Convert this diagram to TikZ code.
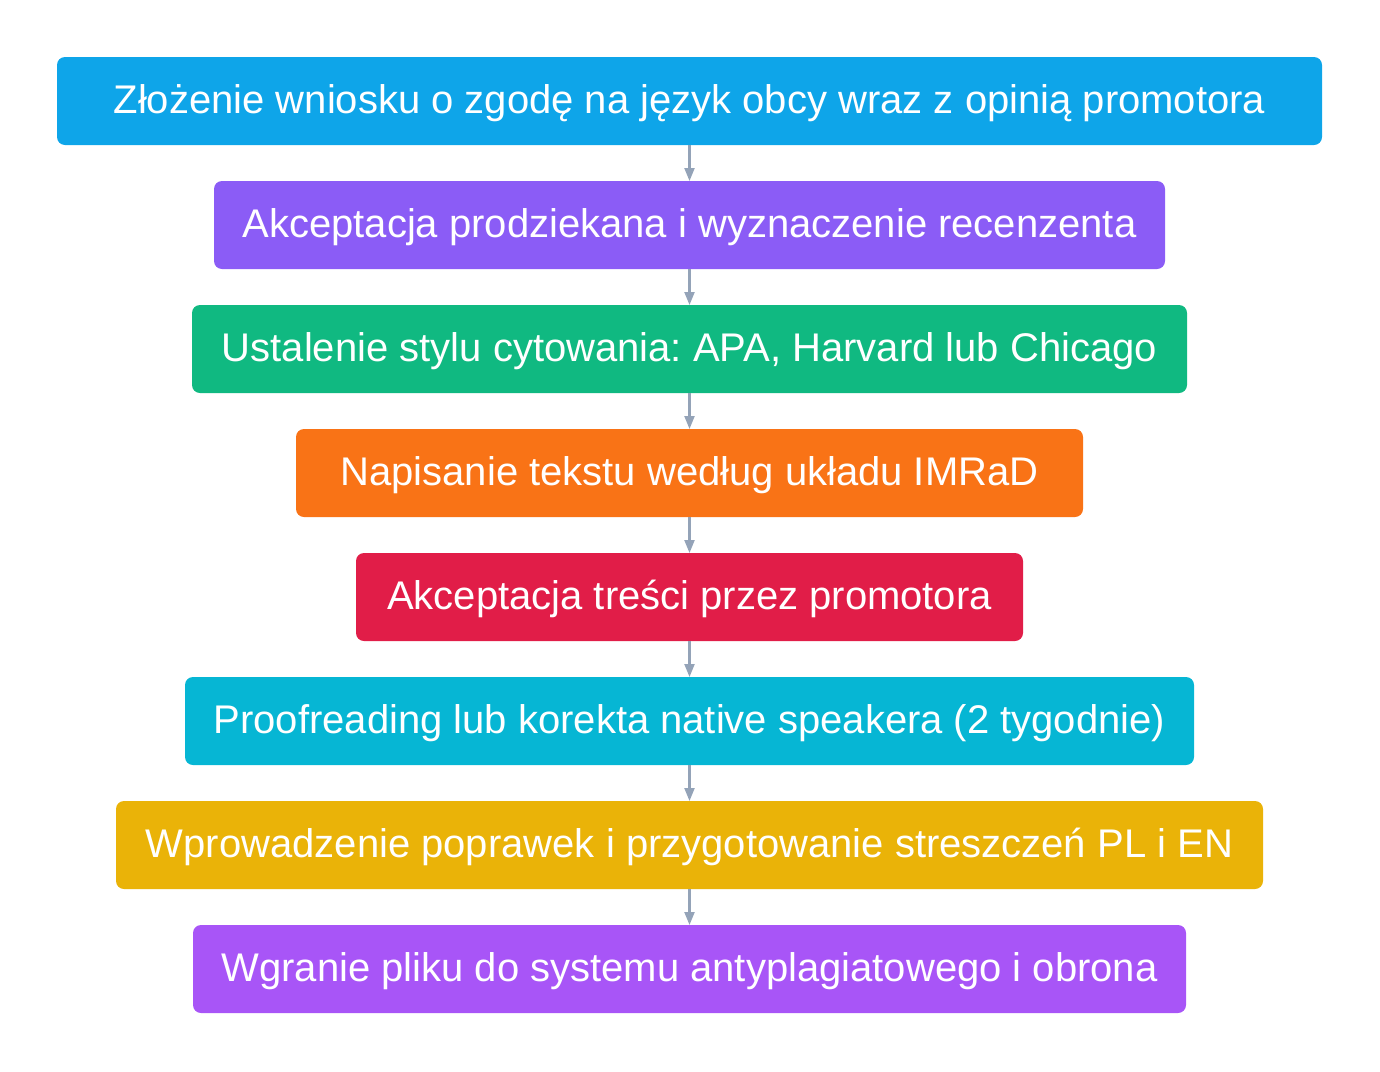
\documentclass[tikz,border=0pt]{standalone}
\usepackage{fontspec}
\setmainfont{Liberation Sans}
\usepackage{xcolor}
\usepackage{tikz}
\usetikzlibrary{positioning,arrows.meta}
\frenchspacing
\definecolor{cSky}{HTML}{0EA5E9}
\definecolor{cViolet}{HTML}{8B5CF6}
\definecolor{cGreen}{HTML}{10B981}
\definecolor{cOrange}{HTML}{F97316}
\definecolor{cRed}{HTML}{E11D48}
\definecolor{cCyan}{HTML}{06B6D4}
\definecolor{cYellow}{HTML}{EAB308}
\definecolor{cPurple}{HTML}{A855F7}
\definecolor{cArrow}{HTML}{94A3B8}

\begin{document}
\begin{tikzpicture}[x=1pt,y=1pt,
    main node/.style={rectangle,rounded corners=8pt,inner sep=0pt,outer sep=0pt,minimum height=88pt,
      text height=33pt,text depth=8pt,text=white,font=\fontsize{40}{44}\selectfont},
    flow/.style={draw=cArrow,line width=2.2pt,-{Triangle[length=13pt,width=10pt]}}]
  \useasboundingbox (0,0) rectangle (1380,-1071);
  \node[main node,fill=cSky,minimum width=1265pt] (1) at (689.5,-101) {Złożenie wniosku o zgodę na język obcy wraz z opinią promotora};
  \node[main node,fill=cViolet,minimum width=951pt,below=36pt of 1] (2) {Akceptacja prodziekana i wyznaczenie recenzenta};
  \node[main node,fill=cGreen,minimum width=995pt,below=36pt of 2] (3) {Ustalenie stylu cytowania: APA, Harvard lub Chicago};
  \node[main node,fill=cOrange,minimum width=787pt,below=36pt of 3] (4) {Napisanie tekstu według układu IMRaD};
  \node[main node,fill=cRed,minimum width=667pt,below=36pt of 4] (5) {Akceptacja treści przez promotora};
  \node[main node,fill=cCyan,minimum width=1009pt,below=36pt of 5] (6) {Proofreading lub korekta native speakera (2 tygodnie)};
  \node[main node,fill=cYellow,minimum width=1147pt,below=36pt of 6] (7) {Wprowadzenie poprawek i przygotowanie streszczeń PL i EN};
  \node[main node,fill=cPurple,minimum width=993pt,below=36pt of 7] (8) {Wgranie pliku do systemu antyplagiatowego i obrona};
  \path
    (1) edge[flow] (2)
    (2) edge[flow] (3)
    (3) edge[flow] (4)
    (4) edge[flow] (5)
    (5) edge[flow] (6)
    (6) edge[flow] (7)
    (7) edge[flow] (8);
\end{tikzpicture}
\end{document}
